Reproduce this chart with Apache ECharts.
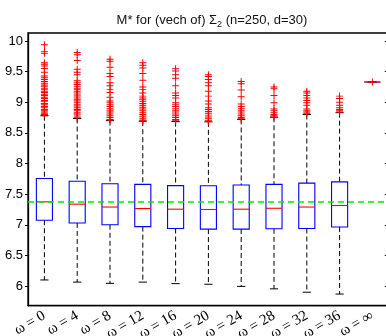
<!DOCTYPE html>
<html>
<head>
<meta charset="utf-8">
<script src="https://cdn.jsdelivr.net/npm/echarts@6/dist/echarts.min.js"></script>
<style>html,body{margin:0;padding:0;background:#fff}#c{width:386px;height:336px}</style>
</head>
<body>
<div id="c"></div>
<script>
const categories = ['ω = 0','ω = 4','ω = 8','ω = 12','ω = 16','ω = 20','ω = 24','ω = 28','ω = 32','ω = 36','ω = ∞'];
const lowerWhisker = [6.10, 6.065, 6.045, 6.065, 6.04, 6.03, 5.995, 5.955, 5.90, 5.87, 9.33];
const q1 = [7.075, 7.03, 7.00, 6.97, 6.94, 6.93, 6.93, 6.935, 6.94, 6.965, 9.33];
const median = [7.375, 7.337, 7.29, 7.265, 7.255, 7.25, 7.255, 7.27, 7.29, 7.315, 9.33];
const q3 = [7.755, 7.71, 7.67, 7.66, 7.64, 7.637, 7.65, 7.66, 7.68, 7.70, 9.33];
const upperWhisker = [8.78, 8.735, 8.70, 8.69, 8.685, 8.68, 8.72, 8.755, 8.80, 8.83, 9.33];
const referenceLevel = 7.375;
const yTicks = [6, 6.5, 7, 7.5, 8, 8.5, 9, 9.5, 10];

const outliers0 = [9.94, 9.83, 9.80, 9.645, 9.62, 9.59, 9.55, 9.49, 9.43, 9.40, 9.37, 9.34, 9.31, 9.28, 9.26, 9.23, 9.21, 9.18, 9.16, 9.13, 9.11, 9.08, 9.06, 9.03, 9.01, 8.98, 8.96, 8.93, 8.91, 8.88, 8.86, 8.84, 8.82, 8.80];
const outliers1 = [9.81, 9.775, 9.68, 9.54, 9.49, 9.45, 9.35, 9.32, 9.29, 9.26, 9.23, 9.21, 9.18, 9.15, 9.12, 9.10, 9.07, 9.04, 9.02, 8.99, 8.96, 8.94, 8.91, 8.88, 8.86, 8.83, 8.81, 8.79, 8.76, 8.745];
const outliers2 = [9.70, 9.67, 9.57, 9.47, 9.42, 9.32, 9.27, 9.21, 9.16, 9.08, 9.02, 8.99, 8.96, 8.93, 8.90, 8.87, 8.84, 8.81, 8.78, 8.75, 8.72, 8.71];
const outliers3 = [9.645, 9.605, 9.56, 9.47, 9.36, 9.25, 9.21, 9.15, 9.10, 9.07, 9.04, 9.01, 8.98, 8.95, 8.92, 8.89, 8.86, 8.83, 8.80, 8.77, 8.74, 8.71, 8.70];
const outliers4 = [9.546, 9.51, 9.45, 9.39, 9.27, 9.15, 9.11, 9.07, 8.99, 8.96, 8.93, 8.90, 8.87, 8.84, 8.81, 8.78, 8.75, 8.72, 8.70];
const outliers5 = [9.45, 9.42, 9.37, 9.32, 9.27, 9.18, 9.10, 9.02, 8.97, 8.91, 8.88, 8.85, 8.82, 8.79, 8.76, 8.73, 8.70, 8.69];
const outliers6 = [9.34, 9.30, 9.20, 9.09, 8.97, 8.93, 8.90, 8.87, 8.84, 8.81, 8.78, 8.75, 8.73];
const outliers7 = [9.25, 9.22, 9.11, 8.99, 8.89, 8.86, 8.83, 8.80, 8.78, 8.76];
const outliers8 = [9.18, 9.15, 9.11, 9.07, 9.03, 8.99, 8.95, 8.89, 8.86, 8.84, 8.82];
const outliers9 = [9.10, 9.06, 9.00, 8.95, 8.91, 8.88, 8.86, 8.84];
const outliers10 = [9.33];
const outlierLists = [outliers0, outliers1, outliers2, outliers3, outliers4, outliers5, outliers6, outliers7, outliers8, outliers9, outliers10];

const boxData = categories.map((c, i) => [i, lowerWhisker[i], q1[i], median[i], q3[i], upperWhisker[i]]);
const outlierData = [];
outlierLists.forEach((arr, i) => arr.forEach(v => outlierData.push([i, v])));

const chart = echarts.init(document.getElementById('c'), null, {renderer: 'canvas'});
const plusPath = 'path://M-1,-0.14 L1,-0.14 L1,0.14 L-1,0.14 Z M-0.14,-1 L0.14,-1 L0.14,1 L-0.14,1 Z';

chart.setOption({
  animation: false,
  backgroundColor: '#fff',
  title: {
    text: '{a|M* for (vech of) Σ}{s|2}{a| (n=250, d=30)}',
    left: 207, top: 6, textAlign: 'center',
    textStyle: {
      fontWeight: 'normal',
      rich: {
        a: {fontFamily: 'Liberation Sans', fontSize: 13, fontWeight: 'normal', color: '#111', lineHeight: 18, verticalAlign: 'middle'},
        s: {fontFamily: 'Liberation Sans', fontSize: 9, fontWeight: 'normal', color: '#111', lineHeight: 18, verticalAlign: 'bottom', padding: [6, 0, 0, 0]}
      }
    }
  },
  grid: {left: 28, top: 33, width: 360.8, height: 272.7, containLabel: false, outerBoundsMode: 'none', show: true, borderColor: '#000', borderWidth: 1.3, backgroundColor: 'transparent'},
  xAxis: {
    type: 'category', data: categories, boundaryGap: true,
    axisLine: {show: true, lineStyle: {color: '#000', width: 1.3}},
    axisTick: {show: false},
    axisLabel: {rotate: 30, margin: 9, fontFamily: 'Liberation Serif', fontSize: 15, color: '#000', interval: 0}
  },
  yAxis: [{
    type: 'value', min: 5.68, max: 10.13,
    splitLine: {show: false},
    axisLine: {show: true, lineStyle: {color: '#000', width: 1.3}},
    axisTick: {show: true, inside: false, length: 3, customValues: yTicks, lineStyle: {color: '#000'}},
    axisLabel: {customValues: yTicks, margin: 5, fontFamily: 'Liberation Sans', fontSize: 13, color: '#000', formatter: v => String(v)}
  }, {
    type: 'value', min: 5.68, max: 10.13, position: 'right',
    splitLine: {show: false},
    axisLine: {show: false},
    axisTick: {show: true, inside: true, length: 4, customValues: yTicks, lineStyle: {color: '#000'}},
    axisLabel: {show: false}
  }],
  series: [{
    type: 'custom',
    data: boxData,
    z: 2,
    encode: {x: 0, y: [1, 2, 3, 4, 5]},
    renderItem: function (params, api) {
      const i = api.value(0);
      const lo = api.coord([i, api.value(1)]);
      const b1 = api.coord([i, api.value(2)]);
      const md = api.coord([i, api.value(3)]);
      const b3 = api.coord([i, api.value(4)]);
      const hi = api.coord([i, api.value(5)]);
      const band = api.size([1, 0])[0];
      const cx = lo[0];
      const hw = band * 0.245;
      const cw = band * 0.125;
      const dash = {stroke: '#000', lineWidth: 1, lineDash: [5, 3]};
      const solid = {stroke: '#000', lineWidth: 1};
      return {
        type: 'group',
        children: [
          {type: 'line', shape: {x1: cx, y1: hi[1], x2: cx, y2: b3[1]}, style: dash},
          {type: 'line', shape: {x1: cx, y1: b1[1], x2: cx, y2: lo[1]}, style: dash},
          {type: 'line', shape: {x1: cx - cw, y1: hi[1], x2: cx + cw, y2: hi[1]}, style: solid},
          {type: 'line', shape: {x1: cx - cw, y1: lo[1], x2: cx + cw, y2: lo[1]}, style: solid},
          {type: 'rect', shape: {x: cx - hw, y: b3[1], width: hw * 2, height: b1[1] - b3[1]}, style: {fill: 'none', stroke: '#0000ff', lineWidth: 1.1}},
          {type: 'line', shape: {x1: cx - hw, y1: md[1], x2: cx + hw, y2: md[1]}, style: {stroke: '#ff0000', lineWidth: 1.1}}
        ]
      };
    }
  }, {
    type: 'scatter',
    data: outlierData,
    z: 3,
    symbol: plusPath,
    symbolSize: 7,
    itemStyle: {color: '#ff0000', opacity: 1},
    markLine: {
      silent: true, symbol: 'none', z: 4,
      label: {show: false},
      lineStyle: {color: '#00ee00', type: [6, 4], width: 1.5},
      data: [{yAxis: referenceLevel}]
    }
  }]
});
</script>
</body>
</html>
